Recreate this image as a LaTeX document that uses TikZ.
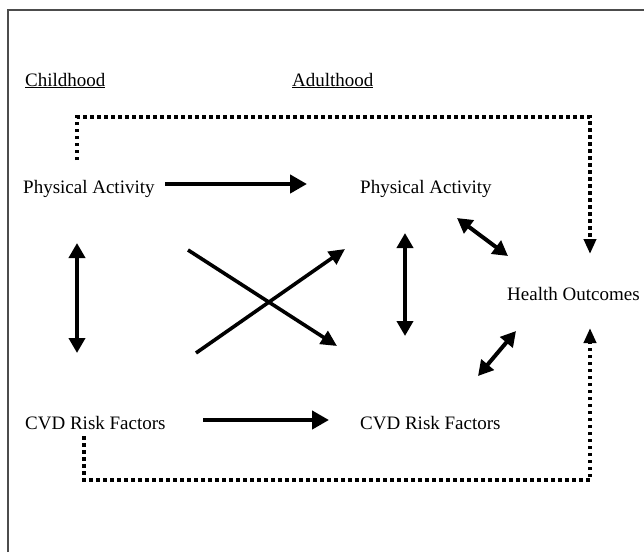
\documentclass[tikz,border=0pt]{standalone}
\usepackage{fontspec}
\setmainfont{Liberation Serif}
\usetikzlibrary{arrows.meta}
\begin{document}
\begin{tikzpicture}[x=1pt,y=-1pt,
  lbl/.style={font=\fontsize{19}{22}\selectfont, inner sep=0pt, anchor=base west},
  solidarr/.style={line width=4.5pt, -{Triangle[length=17pt,width=18pt]}},
  dblarr/.style={line width=4pt, {Triangle[length=15pt,width=16pt]}-{Triangle[length=15pt,width=16pt]}},
  diagarr/.style={line width=3.6pt, -{Triangle[length=16pt,width=15pt]}},
  dotline/.style={line width=4pt, dash pattern=on 3.5pt off 3.5pt},
  dotarr/.style={dotline, -{Triangle[length=15pt,width=12pt]}},
]
\useasboundingbox (0,0) rectangle (644,552);
\draw[line width=2pt, black!70] (8,552) -- (8,10) -- (644,10);

\node[lbl] (child) at (25,86) {\underline{Childhood}};
\node[lbl] (adult) at (292,86) {\underline{Adulthood}};
\node[lbl] (pa1) at (23,193) {Physical Activity};
\node[lbl] (pa2) at (360,193) {Physical Activity};
\node[lbl] (ho) at (507,300) {Health Outcomes};
\node[lbl] (cvd1) at (25,429) {CVD Risk Factors};
\node[lbl] (cvd2) at (360,429) {CVD Risk Factors};

% arrow endpoints
\coordinate (pa1e) at (165,184);
\coordinate (pa2w) at (307,184);
\coordinate (cvd1e) at (203,420);
\coordinate (cvd2w) at (329,420);
\coordinate (lvt) at (77,243);
\coordinate (lvb) at (77,353);
\coordinate (mvt) at (405,233);
\coordinate (mvb) at (405,336);
\coordinate (xa1) at (188,250);
\coordinate (xa2) at (337,346);
\coordinate (xb1) at (196,353);
\coordinate (xb2) at (345,249);
\coordinate (ua1) at (457,218);
\coordinate (ua2) at (508,256);
\coordinate (la1) at (516,331);
\coordinate (la2) at (478,376);
% dotted paths
\coordinate (t0) at (77,160);
\coordinate (t1) at (77,117);
\coordinate (t2) at (590,117);
\coordinate (t3) at (590,254);
\coordinate (b0) at (84,436);
\coordinate (b1) at (84,480);
\coordinate (b2) at (590,480);
\coordinate (b3) at (590,328);

\draw[solidarr] (pa1e) -- (pa2w);
\draw[solidarr] (cvd1e) -- (cvd2w);
\draw[dblarr] (lvt) -- (lvb);
\draw[dblarr] (mvt) -- (mvb);
\draw[diagarr] (xa1) -- (xa2);
\draw[diagarr] (xb1) -- (xb2);
\draw[dblarr] (ua1) -- (ua2);
\draw[dblarr] (la1) -- (la2);
\draw[dotarr] (t0) -- (t1) -- (t2) -- (t3);
\draw[dotarr] (b0) -- (b1) -- (b2) -- (b3);
\end{tikzpicture}
\end{document}
